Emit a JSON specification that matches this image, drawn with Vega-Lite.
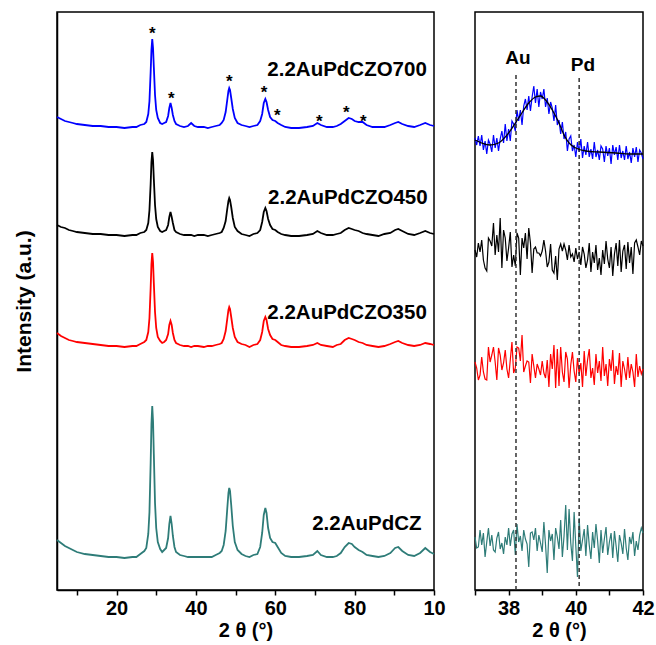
{
"$schema":"https://vega.github.io/schema/vega-lite/v6.json",
"autosize":{"type":"none"},
"padding":{"left":57,"top":12,"right":599,"bottom":633},
"bounds":"flush",
"spacing":41,
"datasets":{
"left":[
{"s":"CZO700","x":5,"y":473},{"s":"CZO700","x":6,"y":471},{"s":"CZO700","x":7,"y":469},{"s":"CZO700","x":8,"y":468},{"s":"CZO700","x":9,"y":467},{"s":"CZO700","x":10,"y":466},{"s":"CZO700","x":12,"y":465},{"s":"CZO700","x":14,"y":464},{"s":"CZO700","x":16,"y":464},{"s":"CZO700","x":18,"y":463},{"s":"CZO700","x":20,"y":463},{"s":"CZO700","x":22,"y":462},{"s":"CZO700","x":24,"y":463},{"s":"CZO700","x":25,"y":463},{"s":"CZO700","x":26,"y":465},{"s":"CZO700","x":27,"y":466},{"s":"CZO700","x":27.5,"y":468},{"s":"CZO700","x":28,"y":476},{"s":"CZO700","x":28.3,"y":489},{"s":"CZO700","x":28.6,"y":518},{"s":"CZO700","x":28.8,"y":540},{"s":"CZO700","x":29.0,"y":551},{"s":"CZO700","x":29.2,"y":542},{"s":"CZO700","x":29.4,"y":523},{"s":"CZO700","x":29.7,"y":495},{"s":"CZO700","x":30.0,"y":480},{"s":"CZO700","x":30.4,"y":472},{"s":"CZO700","x":31,"y":467},{"s":"CZO700","x":31.5,"y":466},{"s":"CZO700","x":32,"y":467},{"s":"CZO700","x":32.5,"y":468},{"s":"CZO700","x":33,"y":474},{"s":"CZO700","x":33.3,"y":482},{"s":"CZO700","x":33.6,"y":487},{"s":"CZO700","x":33.9,"y":482},{"s":"CZO700","x":34.2,"y":475},{"s":"CZO700","x":34.6,"y":469},{"s":"CZO700","x":35,"y":466},{"s":"CZO700","x":36,"y":464},{"s":"CZO700","x":37,"y":463},{"s":"CZO700","x":38,"y":464},{"s":"CZO700","x":38.8,"y":467},{"s":"CZO700","x":39.6,"y":464},{"s":"CZO700","x":40.5,"y":463},{"s":"CZO700","x":42,"y":463},{"s":"CZO700","x":43,"y":462},{"s":"CZO700","x":44,"y":463},{"s":"CZO700","x":45,"y":464},{"s":"CZO700","x":46,"y":465},{"s":"CZO700","x":46.5,"y":467},{"s":"CZO700","x":47,"y":470},{"s":"CZO700","x":47.5,"y":478},{"s":"CZO700","x":47.9,"y":490},{"s":"CZO700","x":48.2,"y":499},{"s":"CZO700","x":48.4,"y":502},{"s":"CZO700","x":48.6,"y":500},{"s":"CZO700","x":48.9,"y":492},{"s":"CZO700","x":49.3,"y":481},{"s":"CZO700","x":49.8,"y":472},{"s":"CZO700","x":50.5,"y":467},{"s":"CZO700","x":51.5,"y":465},{"s":"CZO700","x":52.5,"y":464},{"s":"CZO700","x":53.5,"y":463},{"s":"CZO700","x":54.5,"y":464},{"s":"CZO700","x":55.5,"y":465},{"s":"CZO700","x":56.2,"y":469},{"s":"CZO700","x":56.7,"y":476},{"s":"CZO700","x":57.1,"y":487},{"s":"CZO700","x":57.5,"y":491},{"s":"CZO700","x":57.8,"y":488},{"s":"CZO700","x":58.2,"y":480},{"s":"CZO700","x":58.7,"y":473},{"s":"CZO700","x":59.3,"y":470},{"s":"CZO700","x":60,"y":469},{"s":"CZO700","x":60.6,"y":467},{"s":"CZO700","x":61.5,"y":465},{"s":"CZO700","x":62.5,"y":463},{"s":"CZO700","x":64,"y":462},{"s":"CZO700","x":66,"y":462},{"s":"CZO700","x":68,"y":463},{"s":"CZO700","x":69.5,"y":464},{"s":"CZO700","x":70.6,"y":467},{"s":"CZO700","x":71.5,"y":465},{"s":"CZO700","x":73,"y":463},{"s":"CZO700","x":74.5,"y":463},{"s":"CZO700","x":75.5,"y":464},{"s":"CZO700","x":76.5,"y":466},{"s":"CZO700","x":77.5,"y":469},{"s":"CZO700","x":78.5,"y":472},{"s":"CZO700","x":79.3,"y":471},{"s":"CZO700","x":80,"y":469},{"s":"CZO700","x":81,"y":468},{"s":"CZO700","x":82,"y":468},{"s":"CZO700","x":83,"y":465},{"s":"CZO700","x":84.5,"y":463},{"s":"CZO700","x":86,"y":463},{"s":"CZO700","x":87.5,"y":463},{"s":"CZO700","x":89,"y":465},{"s":"CZO700","x":90.2,"y":467},{"s":"CZO700","x":91,"y":468},{"s":"CZO700","x":92,"y":466},{"s":"CZO700","x":93.5,"y":464},{"s":"CZO700","x":95,"y":463},{"s":"CZO700","x":96.5,"y":465},{"s":"CZO700","x":97.8,"y":467},{"s":"CZO700","x":99,"y":465},{"s":"CZO700","x":100,"y":464},
{"s":"CZO450","x":5,"y":365},{"s":"CZO450","x":6,"y":363},{"s":"CZO450","x":7,"y":362},{"s":"CZO450","x":8,"y":360},{"s":"CZO450","x":9,"y":359},{"s":"CZO450","x":10,"y":358},{"s":"CZO450","x":12,"y":357},{"s":"CZO450","x":14,"y":356},{"s":"CZO450","x":16,"y":356},{"s":"CZO450","x":18,"y":355},{"s":"CZO450","x":20,"y":355},{"s":"CZO450","x":22,"y":354},{"s":"CZO450","x":24,"y":355},{"s":"CZO450","x":25,"y":355},{"s":"CZO450","x":26,"y":357},{"s":"CZO450","x":27,"y":358},{"s":"CZO450","x":27.5,"y":360},{"s":"CZO450","x":28,"y":367},{"s":"CZO450","x":28.3,"y":380},{"s":"CZO450","x":28.6,"y":406},{"s":"CZO450","x":28.8,"y":428},{"s":"CZO450","x":29.0,"y":438},{"s":"CZO450","x":29.2,"y":430},{"s":"CZO450","x":29.4,"y":411},{"s":"CZO450","x":29.7,"y":385},{"s":"CZO450","x":30.0,"y":371},{"s":"CZO450","x":30.4,"y":363},{"s":"CZO450","x":31,"y":359},{"s":"CZO450","x":31.5,"y":358},{"s":"CZO450","x":32,"y":359},{"s":"CZO450","x":32.5,"y":360},{"s":"CZO450","x":33,"y":365},{"s":"CZO450","x":33.3,"y":373},{"s":"CZO450","x":33.6,"y":378},{"s":"CZO450","x":33.9,"y":373},{"s":"CZO450","x":34.2,"y":367},{"s":"CZO450","x":34.6,"y":360},{"s":"CZO450","x":35,"y":358},{"s":"CZO450","x":36,"y":356},{"s":"CZO450","x":37,"y":355},{"s":"CZO450","x":38,"y":355},{"s":"CZO450","x":38.8,"y":355},{"s":"CZO450","x":39.6,"y":354},{"s":"CZO450","x":40.5,"y":355},{"s":"CZO450","x":42,"y":355},{"s":"CZO450","x":43,"y":354},{"s":"CZO450","x":44,"y":355},{"s":"CZO450","x":45,"y":356},{"s":"CZO450","x":46,"y":357},{"s":"CZO450","x":46.5,"y":358},{"s":"CZO450","x":47,"y":362},{"s":"CZO450","x":47.5,"y":369},{"s":"CZO450","x":47.9,"y":381},{"s":"CZO450","x":48.2,"y":389},{"s":"CZO450","x":48.4,"y":392},{"s":"CZO450","x":48.6,"y":390},{"s":"CZO450","x":48.9,"y":383},{"s":"CZO450","x":49.3,"y":372},{"s":"CZO450","x":49.8,"y":363},{"s":"CZO450","x":50.5,"y":359},{"s":"CZO450","x":51.5,"y":356},{"s":"CZO450","x":52.5,"y":355},{"s":"CZO450","x":53.5,"y":354},{"s":"CZO450","x":54.5,"y":356},{"s":"CZO450","x":55.5,"y":357},{"s":"CZO450","x":56.2,"y":360},{"s":"CZO450","x":56.7,"y":368},{"s":"CZO450","x":57.1,"y":378},{"s":"CZO450","x":57.5,"y":382},{"s":"CZO450","x":57.8,"y":379},{"s":"CZO450","x":58.2,"y":371},{"s":"CZO450","x":58.7,"y":365},{"s":"CZO450","x":59.3,"y":361},{"s":"CZO450","x":60,"y":360},{"s":"CZO450","x":60.6,"y":358},{"s":"CZO450","x":61.5,"y":356},{"s":"CZO450","x":62.5,"y":355},{"s":"CZO450","x":64,"y":354},{"s":"CZO450","x":66,"y":354},{"s":"CZO450","x":68,"y":355},{"s":"CZO450","x":69.5,"y":356},{"s":"CZO450","x":70.6,"y":359},{"s":"CZO450","x":71.5,"y":357},{"s":"CZO450","x":73,"y":355},{"s":"CZO450","x":74.5,"y":355},{"s":"CZO450","x":75.5,"y":356},{"s":"CZO450","x":76.5,"y":357},{"s":"CZO450","x":77.5,"y":360},{"s":"CZO450","x":78.5,"y":362},{"s":"CZO450","x":79.3,"y":361},{"s":"CZO450","x":80,"y":360},{"s":"CZO450","x":81,"y":359},{"s":"CZO450","x":82,"y":357},{"s":"CZO450","x":83,"y":356},{"s":"CZO450","x":84.5,"y":355},{"s":"CZO450","x":86,"y":354},{"s":"CZO450","x":87.5,"y":356},{"s":"CZO450","x":89,"y":357},{"s":"CZO450","x":90.2,"y":360},{"s":"CZO450","x":91,"y":361},{"s":"CZO450","x":92,"y":359},{"s":"CZO450","x":93.5,"y":356},{"s":"CZO450","x":95,"y":355},{"s":"CZO450","x":96.5,"y":357},{"s":"CZO450","x":97.8,"y":359},{"s":"CZO450","x":99,"y":357},{"s":"CZO450","x":100,"y":356},
{"s":"CZO350","x":5,"y":257},{"s":"CZO350","x":6,"y":254},{"s":"CZO350","x":7,"y":252},{"s":"CZO350","x":8,"y":250},{"s":"CZO350","x":9,"y":249},{"s":"CZO350","x":10,"y":248},{"s":"CZO350","x":12,"y":247},{"s":"CZO350","x":14,"y":246},{"s":"CZO350","x":16,"y":245},{"s":"CZO350","x":18,"y":244},{"s":"CZO350","x":20,"y":244},{"s":"CZO350","x":22,"y":243},{"s":"CZO350","x":24,"y":244},{"s":"CZO350","x":25,"y":244},{"s":"CZO350","x":26,"y":246},{"s":"CZO350","x":27,"y":248},{"s":"CZO350","x":27.5,"y":250},{"s":"CZO350","x":28,"y":258},{"s":"CZO350","x":28.3,"y":272},{"s":"CZO350","x":28.6,"y":302},{"s":"CZO350","x":28.8,"y":326},{"s":"CZO350","x":29.0,"y":337},{"s":"CZO350","x":29.2,"y":328},{"s":"CZO350","x":29.4,"y":307},{"s":"CZO350","x":29.7,"y":278},{"s":"CZO350","x":30.0,"y":262},{"s":"CZO350","x":30.4,"y":253},{"s":"CZO350","x":31,"y":249},{"s":"CZO350","x":31.5,"y":247},{"s":"CZO350","x":32,"y":248},{"s":"CZO350","x":32.5,"y":250},{"s":"CZO350","x":33,"y":256},{"s":"CZO350","x":33.3,"y":265},{"s":"CZO350","x":33.6,"y":269},{"s":"CZO350","x":33.9,"y":265},{"s":"CZO350","x":34.2,"y":257},{"s":"CZO350","x":34.6,"y":250},{"s":"CZO350","x":35,"y":247},{"s":"CZO350","x":36,"y":245},{"s":"CZO350","x":37,"y":244},{"s":"CZO350","x":38,"y":244},{"s":"CZO350","x":38.8,"y":243},{"s":"CZO350","x":39.6,"y":244},{"s":"CZO350","x":40.5,"y":244},{"s":"CZO350","x":42,"y":243},{"s":"CZO350","x":43,"y":244},{"s":"CZO350","x":44,"y":244},{"s":"CZO350","x":45,"y":245},{"s":"CZO350","x":46,"y":246},{"s":"CZO350","x":46.5,"y":247},{"s":"CZO350","x":47,"y":251},{"s":"CZO350","x":47.5,"y":259},{"s":"CZO350","x":47.9,"y":271},{"s":"CZO350","x":48.2,"y":280},{"s":"CZO350","x":48.4,"y":283},{"s":"CZO350","x":48.6,"y":281},{"s":"CZO350","x":48.9,"y":273},{"s":"CZO350","x":49.3,"y":262},{"s":"CZO350","x":49.8,"y":253},{"s":"CZO350","x":50.5,"y":248},{"s":"CZO350","x":51.5,"y":246},{"s":"CZO350","x":52.5,"y":245},{"s":"CZO350","x":53.5,"y":243},{"s":"CZO350","x":54.5,"y":245},{"s":"CZO350","x":55.5,"y":246},{"s":"CZO350","x":56.2,"y":250},{"s":"CZO350","x":56.7,"y":258},{"s":"CZO350","x":57.1,"y":269},{"s":"CZO350","x":57.5,"y":273},{"s":"CZO350","x":57.8,"y":270},{"s":"CZO350","x":58.2,"y":261},{"s":"CZO350","x":58.7,"y":255},{"s":"CZO350","x":59.3,"y":251},{"s":"CZO350","x":60,"y":250},{"s":"CZO350","x":60.6,"y":248},{"s":"CZO350","x":61.5,"y":245},{"s":"CZO350","x":62.5,"y":244},{"s":"CZO350","x":64,"y":243},{"s":"CZO350","x":66,"y":243},{"s":"CZO350","x":68,"y":244},{"s":"CZO350","x":69.5,"y":245},{"s":"CZO350","x":70.6,"y":247},{"s":"CZO350","x":71.5,"y":245},{"s":"CZO350","x":73,"y":244},{"s":"CZO350","x":74.5,"y":243},{"s":"CZO350","x":75.5,"y":245},{"s":"CZO350","x":76.5,"y":246},{"s":"CZO350","x":77.5,"y":250},{"s":"CZO350","x":78.5,"y":252},{"s":"CZO350","x":79.3,"y":251},{"s":"CZO350","x":80,"y":250},{"s":"CZO350","x":81,"y":248},{"s":"CZO350","x":82,"y":247},{"s":"CZO350","x":83,"y":245},{"s":"CZO350","x":84.5,"y":244},{"s":"CZO350","x":86,"y":243},{"s":"CZO350","x":87.5,"y":244},{"s":"CZO350","x":89,"y":246},{"s":"CZO350","x":90.2,"y":248},{"s":"CZO350","x":91,"y":249},{"s":"CZO350","x":92,"y":247},{"s":"CZO350","x":93.5,"y":245},{"s":"CZO350","x":95,"y":244},{"s":"CZO350","x":96.5,"y":245},{"s":"CZO350","x":97.8,"y":247},{"s":"CZO350","x":99,"y":246},{"s":"CZO350","x":100,"y":245},
{"s":"CZ","x":5,"y":50},{"s":"CZ","x":6,"y":47},{"s":"CZ","x":7,"y":44},{"s":"CZ","x":8,"y":42},{"s":"CZ","x":9,"y":40},{"s":"CZ","x":10,"y":38},{"s":"CZ","x":12,"y":36},{"s":"CZ","x":14,"y":35},{"s":"CZ","x":16,"y":34},{"s":"CZ","x":18,"y":33},{"s":"CZ","x":20,"y":33},{"s":"CZ","x":22,"y":32},{"s":"CZ","x":24,"y":33},{"s":"CZ","x":25,"y":33},{"s":"CZ","x":26,"y":36},{"s":"CZ","x":27,"y":39},{"s":"CZ","x":27.5,"y":42},{"s":"CZ","x":28,"y":56},{"s":"CZ","x":28.3,"y":78},{"s":"CZ","x":28.6,"y":127},{"s":"CZ","x":28.8,"y":166},{"s":"CZ","x":29.0,"y":184},{"s":"CZ","x":29.2,"y":169},{"s":"CZ","x":29.4,"y":136},{"s":"CZ","x":29.7,"y":87},{"s":"CZ","x":30.0,"y":62},{"s":"CZ","x":30.4,"y":48},{"s":"CZ","x":31,"y":41},{"s":"CZ","x":31.5,"y":38},{"s":"CZ","x":32,"y":40},{"s":"CZ","x":32.5,"y":42},{"s":"CZ","x":33,"y":52},{"s":"CZ","x":33.3,"y":66},{"s":"CZ","x":33.6,"y":74},{"s":"CZ","x":33.9,"y":66},{"s":"CZ","x":34.2,"y":54},{"s":"CZ","x":34.6,"y":43},{"s":"CZ","x":35,"y":38},{"s":"CZ","x":36,"y":35},{"s":"CZ","x":37,"y":34},{"s":"CZ","x":38,"y":33},{"s":"CZ","x":38.8,"y":33},{"s":"CZ","x":39.6,"y":33},{"s":"CZ","x":40.5,"y":33},{"s":"CZ","x":42,"y":33},{"s":"CZ","x":43,"y":33},{"s":"CZ","x":44,"y":33},{"s":"CZ","x":45,"y":35},{"s":"CZ","x":46,"y":37},{"s":"CZ","x":46.5,"y":39},{"s":"CZ","x":47,"y":45},{"s":"CZ","x":47.5,"y":59},{"s":"CZ","x":47.9,"y":81},{"s":"CZ","x":48.2,"y":97},{"s":"CZ","x":48.4,"y":102},{"s":"CZ","x":48.6,"y":99},{"s":"CZ","x":48.9,"y":85},{"s":"CZ","x":49.3,"y":64},{"s":"CZ","x":49.8,"y":48},{"s":"CZ","x":50.5,"y":40},{"s":"CZ","x":51.5,"y":36},{"s":"CZ","x":52.5,"y":34},{"s":"CZ","x":53.5,"y":33},{"s":"CZ","x":54.5,"y":35},{"s":"CZ","x":55.5,"y":36},{"s":"CZ","x":56.2,"y":43},{"s":"CZ","x":56.7,"y":57},{"s":"CZ","x":57.1,"y":75},{"s":"CZ","x":57.5,"y":82},{"s":"CZ","x":57.8,"y":77},{"s":"CZ","x":58.2,"y":62},{"s":"CZ","x":58.7,"y":52},{"s":"CZ","x":59.3,"y":48},{"s":"CZ","x":60,"y":47},{"s":"CZ","x":60.6,"y":43},{"s":"CZ","x":61.5,"y":37},{"s":"CZ","x":62.5,"y":34},{"s":"CZ","x":64,"y":33},{"s":"CZ","x":66,"y":33},{"s":"CZ","x":68,"y":34},{"s":"CZ","x":69.5,"y":35},{"s":"CZ","x":70.6,"y":39},{"s":"CZ","x":71.5,"y":35},{"s":"CZ","x":73,"y":33},{"s":"CZ","x":74.5,"y":33},{"s":"CZ","x":75.5,"y":34},{"s":"CZ","x":76.5,"y":37},{"s":"CZ","x":77.5,"y":43},{"s":"CZ","x":78.5,"y":47},{"s":"CZ","x":79.3,"y":46},{"s":"CZ","x":80,"y":43},{"s":"CZ","x":81,"y":40},{"s":"CZ","x":82,"y":38},{"s":"CZ","x":83,"y":35},{"s":"CZ","x":84.5,"y":34},{"s":"CZ","x":86,"y":33},{"s":"CZ","x":87.5,"y":34},{"s":"CZ","x":89,"y":37},{"s":"CZ","x":90.2,"y":42},{"s":"CZ","x":91,"y":43},{"s":"CZ","x":92,"y":39},{"s":"CZ","x":93.5,"y":35},{"s":"CZ","x":95,"y":34},{"s":"CZ","x":96.5,"y":37},{"s":"CZ","x":97.8,"y":42},{"s":"CZ","x":99,"y":38},{"s":"CZ","x":100,"y":36}
],
"right":[
{"s":"CZO700","x":37.00,"y":452},{"s":"CZO700","x":37.05,"y":445},{"s":"CZO700","x":37.10,"y":454},{"s":"CZO700","x":37.15,"y":444},{"s":"CZO700","x":37.20,"y":455},{"s":"CZO700","x":37.25,"y":440},{"s":"CZO700","x":37.30,"y":449},{"s":"CZO700","x":37.35,"y":436},{"s":"CZO700","x":37.40,"y":450},{"s":"CZO700","x":37.45,"y":446},{"s":"CZO700","x":37.50,"y":438},{"s":"CZO700","x":37.55,"y":455},{"s":"CZO700","x":37.60,"y":442},{"s":"CZO700","x":37.65,"y":452},{"s":"CZO700","x":37.70,"y":439},{"s":"CZO700","x":37.75,"y":451},{"s":"CZO700","x":37.80,"y":459},{"s":"CZO700","x":37.85,"y":447},{"s":"CZO700","x":37.90,"y":466},{"s":"CZO700","x":37.95,"y":449},{"s":"CZO700","x":38.00,"y":461},{"s":"CZO700","x":38.05,"y":449},{"s":"CZO700","x":38.10,"y":469},{"s":"CZO700","x":38.15,"y":466},{"s":"CZO700","x":38.20,"y":459},{"s":"CZO700","x":38.25,"y":480},{"s":"CZO700","x":38.30,"y":469},{"s":"CZO700","x":38.35,"y":480},{"s":"CZO700","x":38.40,"y":465},{"s":"CZO700","x":38.45,"y":484},{"s":"CZO700","x":38.50,"y":491},{"s":"CZO700","x":38.55,"y":480},{"s":"CZO700","x":38.60,"y":494},{"s":"CZO700","x":38.65,"y":479},{"s":"CZO700","x":38.70,"y":493},{"s":"CZO700","x":38.75,"y":504},{"s":"CZO700","x":38.80,"y":487},{"s":"CZO700","x":38.85,"y":501},{"s":"CZO700","x":38.90,"y":483},{"s":"CZO700","x":38.95,"y":498},{"s":"CZO700","x":39.00,"y":491},{"s":"CZO700","x":39.05,"y":501},{"s":"CZO700","x":39.10,"y":483},{"s":"CZO700","x":39.15,"y":492},{"s":"CZO700","x":39.20,"y":476},{"s":"CZO700","x":39.25,"y":488},{"s":"CZO700","x":39.30,"y":482},{"s":"CZO700","x":39.35,"y":469},{"s":"CZO700","x":39.40,"y":485},{"s":"CZO700","x":39.45,"y":465},{"s":"CZO700","x":39.50,"y":470},{"s":"CZO700","x":39.55,"y":456},{"s":"CZO700","x":39.60,"y":468},{"s":"CZO700","x":39.65,"y":451},{"s":"CZO700","x":39.70,"y":458},{"s":"CZO700","x":39.75,"y":439},{"s":"CZO700","x":39.80,"y":451},{"s":"CZO700","x":39.85,"y":454},{"s":"CZO700","x":39.90,"y":439},{"s":"CZO700","x":39.95,"y":445},{"s":"CZO700","x":40.00,"y":433},{"s":"CZO700","x":40.05,"y":448},{"s":"CZO700","x":40.10,"y":438},{"s":"CZO700","x":40.15,"y":451},{"s":"CZO700","x":40.20,"y":432},{"s":"CZO700","x":40.25,"y":444},{"s":"CZO700","x":40.30,"y":435},{"s":"CZO700","x":40.35,"y":448},{"s":"CZO700","x":40.40,"y":433},{"s":"CZO700","x":40.45,"y":441},{"s":"CZO700","x":40.50,"y":431},{"s":"CZO700","x":40.55,"y":448},{"s":"CZO700","x":40.60,"y":433},{"s":"CZO700","x":40.65,"y":440},{"s":"CZO700","x":40.70,"y":430},{"s":"CZO700","x":40.75,"y":444},{"s":"CZO700","x":40.80,"y":441},{"s":"CZO700","x":40.85,"y":428},{"s":"CZO700","x":40.90,"y":444},{"s":"CZO700","x":40.95,"y":434},{"s":"CZO700","x":41.00,"y":442},{"s":"CZO700","x":41.05,"y":426},{"s":"CZO700","x":41.10,"y":445},{"s":"CZO700","x":41.15,"y":435},{"s":"CZO700","x":41.20,"y":443},{"s":"CZO700","x":41.25,"y":430},{"s":"CZO700","x":41.30,"y":445},{"s":"CZO700","x":41.35,"y":432},{"s":"CZO700","x":41.40,"y":439},{"s":"CZO700","x":41.45,"y":430},{"s":"CZO700","x":41.50,"y":444},{"s":"CZO700","x":41.55,"y":431},{"s":"CZO700","x":41.60,"y":438},{"s":"CZO700","x":41.65,"y":427},{"s":"CZO700","x":41.70,"y":442},{"s":"CZO700","x":41.75,"y":433},{"s":"CZO700","x":41.80,"y":443},{"s":"CZO700","x":41.85,"y":428},{"s":"CZO700","x":41.90,"y":440},{"s":"CZO700","x":41.95,"y":437},{"s":"CZO700","x":42.00,"y":431},
{"s":"CZO450","x":37.00,"y":340},{"s":"CZO450","x":37.05,"y":333},{"s":"CZO450","x":37.10,"y":347},{"s":"CZO450","x":37.15,"y":338},{"s":"CZO450","x":37.20,"y":350},{"s":"CZO450","x":37.25,"y":330},{"s":"CZO450","x":37.30,"y":322},{"s":"CZO450","x":37.35,"y":319},{"s":"CZO450","x":37.40,"y":352},{"s":"CZO450","x":37.45,"y":349},{"s":"CZO450","x":37.50,"y":344},{"s":"CZO450","x":37.55,"y":367},{"s":"CZO450","x":37.60,"y":335},{"s":"CZO450","x":37.65,"y":355},{"s":"CZO450","x":37.70,"y":338},{"s":"CZO450","x":37.75,"y":372},{"s":"CZO450","x":37.80,"y":322},{"s":"CZO450","x":37.85,"y":360},{"s":"CZO450","x":37.90,"y":352},{"s":"CZO450","x":37.95,"y":329},{"s":"CZO450","x":38.00,"y":342},{"s":"CZO450","x":38.05,"y":358},{"s":"CZO450","x":38.10,"y":323},{"s":"CZO450","x":38.15,"y":335},{"s":"CZO450","x":38.20,"y":324},{"s":"CZO450","x":38.25,"y":357},{"s":"CZO450","x":38.30,"y":352},{"s":"CZO450","x":38.35,"y":315},{"s":"CZO450","x":38.40,"y":352},{"s":"CZO450","x":38.45,"y":342},{"s":"CZO450","x":38.50,"y":357},{"s":"CZO450","x":38.55,"y":331},{"s":"CZO450","x":38.60,"y":362},{"s":"CZO450","x":38.65,"y":347},{"s":"CZO450","x":38.70,"y":317},{"s":"CZO450","x":38.75,"y":341},{"s":"CZO450","x":38.80,"y":343},{"s":"CZO450","x":38.85,"y":337},{"s":"CZO450","x":38.90,"y":337},{"s":"CZO450","x":38.95,"y":334},{"s":"CZO450","x":39.00,"y":339},{"s":"CZO450","x":39.05,"y":350},{"s":"CZO450","x":39.10,"y":339},{"s":"CZO450","x":39.15,"y":323},{"s":"CZO450","x":39.20,"y":328},{"s":"CZO450","x":39.25,"y":346},{"s":"CZO450","x":39.30,"y":320},{"s":"CZO450","x":39.35,"y":317},{"s":"CZO450","x":39.40,"y":334},{"s":"CZO450","x":39.45,"y":310},{"s":"CZO450","x":39.50,"y":341},{"s":"CZO450","x":39.55,"y":346},{"s":"CZO450","x":39.60,"y":339},{"s":"CZO450","x":39.65,"y":346},{"s":"CZO450","x":39.70,"y":340},{"s":"CZO450","x":39.75,"y":330},{"s":"CZO450","x":39.80,"y":345},{"s":"CZO450","x":39.85,"y":333},{"s":"CZO450","x":39.90,"y":336},{"s":"CZO450","x":39.95,"y":328},{"s":"CZO450","x":40.00,"y":342},{"s":"CZO450","x":40.05,"y":331},{"s":"CZO450","x":40.10,"y":338},{"s":"CZO450","x":40.15,"y":325},{"s":"CZO450","x":40.20,"y":343},{"s":"CZO450","x":40.25,"y":336},{"s":"CZO450","x":40.30,"y":322},{"s":"CZO450","x":40.35,"y":330},{"s":"CZO450","x":40.40,"y":347},{"s":"CZO450","x":40.45,"y":318},{"s":"CZO450","x":40.50,"y":338},{"s":"CZO450","x":40.55,"y":327},{"s":"CZO450","x":40.60,"y":345},{"s":"CZO450","x":40.65,"y":320},{"s":"CZO450","x":40.70,"y":332},{"s":"CZO450","x":40.75,"y":315},{"s":"CZO450","x":40.80,"y":340},{"s":"CZO450","x":40.85,"y":326},{"s":"CZO450","x":40.90,"y":349},{"s":"CZO450","x":40.95,"y":331},{"s":"CZO450","x":41.00,"y":322},{"s":"CZO450","x":41.05,"y":343},{"s":"CZO450","x":41.10,"y":314},{"s":"CZO450","x":41.15,"y":336},{"s":"CZO450","x":41.20,"y":347},{"s":"CZO450","x":41.25,"y":324},{"s":"CZO450","x":41.30,"y":350},{"s":"CZO450","x":41.35,"y":318},{"s":"CZO450","x":41.40,"y":339},{"s":"CZO450","x":41.45,"y":345},{"s":"CZO450","x":41.50,"y":321},{"s":"CZO450","x":41.55,"y":348},{"s":"CZO450","x":41.60,"y":327},{"s":"CZO450","x":41.65,"y":343},{"s":"CZO450","x":41.70,"y":316},{"s":"CZO450","x":41.75,"y":347},{"s":"CZO450","x":41.80,"y":350},{"s":"CZO450","x":41.85,"y":343},{"s":"CZO450","x":41.90,"y":335},{"s":"CZO450","x":41.95,"y":349},{"s":"CZO450","x":42.00,"y":344},
{"s":"CZO350","x":37.00,"y":228},{"s":"CZO350","x":37.05,"y":222},{"s":"CZO350","x":37.10,"y":210},{"s":"CZO350","x":37.15,"y":215},{"s":"CZO350","x":37.20,"y":233},{"s":"CZO350","x":37.25,"y":218},{"s":"CZO350","x":37.30,"y":211},{"s":"CZO350","x":37.35,"y":210},{"s":"CZO350","x":37.40,"y":243},{"s":"CZO350","x":37.45,"y":228},{"s":"CZO350","x":37.50,"y":235},{"s":"CZO350","x":37.55,"y":243},{"s":"CZO350","x":37.60,"y":228},{"s":"CZO350","x":37.65,"y":210},{"s":"CZO350","x":37.70,"y":242},{"s":"CZO350","x":37.75,"y":235},{"s":"CZO350","x":37.80,"y":220},{"s":"CZO350","x":37.85,"y":227},{"s":"CZO350","x":37.90,"y":240},{"s":"CZO350","x":37.95,"y":221},{"s":"CZO350","x":38.00,"y":212},{"s":"CZO350","x":38.05,"y":230},{"s":"CZO350","x":38.10,"y":248},{"s":"CZO350","x":38.15,"y":217},{"s":"CZO350","x":38.20,"y":222},{"s":"CZO350","x":38.25,"y":243},{"s":"CZO350","x":38.30,"y":242},{"s":"CZO350","x":38.35,"y":229},{"s":"CZO350","x":38.40,"y":255},{"s":"CZO350","x":38.45,"y":218},{"s":"CZO350","x":38.50,"y":224},{"s":"CZO350","x":38.55,"y":229},{"s":"CZO350","x":38.60,"y":228},{"s":"CZO350","x":38.65,"y":207},{"s":"CZO350","x":38.70,"y":236},{"s":"CZO350","x":38.75,"y":224},{"s":"CZO350","x":38.80,"y":212},{"s":"CZO350","x":38.85,"y":226},{"s":"CZO350","x":38.90,"y":221},{"s":"CZO350","x":38.95,"y":215},{"s":"CZO350","x":39.00,"y":229},{"s":"CZO350","x":39.05,"y":217},{"s":"CZO350","x":39.10,"y":212},{"s":"CZO350","x":39.15,"y":230},{"s":"CZO350","x":39.20,"y":203},{"s":"CZO350","x":39.25,"y":236},{"s":"CZO350","x":39.30,"y":221},{"s":"CZO350","x":39.35,"y":245},{"s":"CZO350","x":39.40,"y":202},{"s":"CZO350","x":39.45,"y":241},{"s":"CZO350","x":39.50,"y":204},{"s":"CZO350","x":39.55,"y":243},{"s":"CZO350","x":39.60,"y":218},{"s":"CZO350","x":39.65,"y":208},{"s":"CZO350","x":39.70,"y":238},{"s":"CZO350","x":39.75,"y":231},{"s":"CZO350","x":39.80,"y":202},{"s":"CZO350","x":39.85,"y":225},{"s":"CZO350","x":39.90,"y":238},{"s":"CZO350","x":39.95,"y":219},{"s":"CZO350","x":40.00,"y":208},{"s":"CZO350","x":40.05,"y":232},{"s":"CZO350","x":40.10,"y":216},{"s":"CZO350","x":40.15,"y":227},{"s":"CZO350","x":40.20,"y":203},{"s":"CZO350","x":40.25,"y":239},{"s":"CZO350","x":40.30,"y":214},{"s":"CZO350","x":40.35,"y":230},{"s":"CZO350","x":40.40,"y":241},{"s":"CZO350","x":40.45,"y":212},{"s":"CZO350","x":40.50,"y":222},{"s":"CZO350","x":40.55,"y":205},{"s":"CZO350","x":40.60,"y":236},{"s":"CZO350","x":40.65,"y":217},{"s":"CZO350","x":40.70,"y":229},{"s":"CZO350","x":40.75,"y":209},{"s":"CZO350","x":40.80,"y":243},{"s":"CZO350","x":40.85,"y":214},{"s":"CZO350","x":40.90,"y":226},{"s":"CZO350","x":40.95,"y":204},{"s":"CZO350","x":41.00,"y":231},{"s":"CZO350","x":41.05,"y":219},{"s":"CZO350","x":41.10,"y":240},{"s":"CZO350","x":41.15,"y":206},{"s":"CZO350","x":41.20,"y":224},{"s":"CZO350","x":41.25,"y":215},{"s":"CZO350","x":41.30,"y":237},{"s":"CZO350","x":41.35,"y":203},{"s":"CZO350","x":41.40,"y":229},{"s":"CZO350","x":41.45,"y":221},{"s":"CZO350","x":41.50,"y":210},{"s":"CZO350","x":41.55,"y":233},{"s":"CZO350","x":41.60,"y":212},{"s":"CZO350","x":41.65,"y":226},{"s":"CZO350","x":41.70,"y":218},{"s":"CZO350","x":41.75,"y":203},{"s":"CZO350","x":41.80,"y":236},{"s":"CZO350","x":41.85,"y":213},{"s":"CZO350","x":41.90,"y":224},{"s":"CZO350","x":41.95,"y":216},{"s":"CZO350","x":42.00,"y":221},
{"s":"CZ","x":37.00,"y":53},{"s":"CZ","x":37.05,"y":42},{"s":"CZ","x":37.10,"y":43},{"s":"CZ","x":37.15,"y":60},{"s":"CZ","x":37.20,"y":45},{"s":"CZ","x":37.25,"y":57},{"s":"CZ","x":37.30,"y":33},{"s":"CZ","x":37.35,"y":48},{"s":"CZ","x":37.40,"y":62},{"s":"CZ","x":37.45,"y":44},{"s":"CZ","x":37.50,"y":55},{"s":"CZ","x":37.55,"y":40},{"s":"CZ","x":37.60,"y":38},{"s":"CZ","x":37.65,"y":52},{"s":"CZ","x":37.70,"y":58},{"s":"CZ","x":37.75,"y":41},{"s":"CZ","x":37.80,"y":47},{"s":"CZ","x":37.85,"y":36},{"s":"CZ","x":37.90,"y":53},{"s":"CZ","x":37.95,"y":45},{"s":"CZ","x":38.00,"y":62},{"s":"CZ","x":38.05,"y":44},{"s":"CZ","x":38.10,"y":56},{"s":"CZ","x":38.15,"y":60},{"s":"CZ","x":38.20,"y":35},{"s":"CZ","x":38.25,"y":66},{"s":"CZ","x":38.30,"y":48},{"s":"CZ","x":38.35,"y":54},{"s":"CZ","x":38.40,"y":39},{"s":"CZ","x":38.45,"y":60},{"s":"CZ","x":38.50,"y":51},{"s":"CZ","x":38.55,"y":46},{"s":"CZ","x":38.60,"y":23},{"s":"CZ","x":38.65,"y":57},{"s":"CZ","x":38.70,"y":58},{"s":"CZ","x":38.75,"y":50},{"s":"CZ","x":38.80,"y":62},{"s":"CZ","x":38.85,"y":39},{"s":"CZ","x":38.90,"y":55},{"s":"CZ","x":38.95,"y":47},{"s":"CZ","x":39.00,"y":38},{"s":"CZ","x":39.05,"y":68},{"s":"CZ","x":39.10,"y":45},{"s":"CZ","x":39.15,"y":17},{"s":"CZ","x":39.20,"y":60},{"s":"CZ","x":39.25,"y":49},{"s":"CZ","x":39.30,"y":56},{"s":"CZ","x":39.35,"y":30},{"s":"CZ","x":39.40,"y":62},{"s":"CZ","x":39.45,"y":53},{"s":"CZ","x":39.50,"y":41},{"s":"CZ","x":39.55,"y":70},{"s":"CZ","x":39.60,"y":33},{"s":"CZ","x":39.65,"y":54},{"s":"CZ","x":39.70,"y":85},{"s":"CZ","x":39.75,"y":40},{"s":"CZ","x":39.80,"y":81},{"s":"CZ","x":39.85,"y":47},{"s":"CZ","x":39.90,"y":29},{"s":"CZ","x":39.95,"y":78},{"s":"CZ","x":40.00,"y":44},{"s":"CZ","x":40.05,"y":13},{"s":"CZ","x":40.10,"y":72},{"s":"CZ","x":40.15,"y":39},{"s":"CZ","x":40.20,"y":50},{"s":"CZ","x":40.25,"y":61},{"s":"CZ","x":40.30,"y":34},{"s":"CZ","x":40.35,"y":65},{"s":"CZ","x":40.40,"y":45},{"s":"CZ","x":40.45,"y":31},{"s":"CZ","x":40.50,"y":58},{"s":"CZ","x":40.55,"y":42},{"s":"CZ","x":40.60,"y":66},{"s":"CZ","x":40.65,"y":49},{"s":"CZ","x":40.70,"y":27},{"s":"CZ","x":40.75,"y":60},{"s":"CZ","x":40.80,"y":37},{"s":"CZ","x":40.85,"y":51},{"s":"CZ","x":40.90,"y":63},{"s":"CZ","x":40.95,"y":35},{"s":"CZ","x":41.00,"y":48},{"s":"CZ","x":41.05,"y":57},{"s":"CZ","x":41.10,"y":32},{"s":"CZ","x":41.15,"y":59},{"s":"CZ","x":41.20,"y":44},{"s":"CZ","x":41.25,"y":28},{"s":"CZ","x":41.30,"y":55},{"s":"CZ","x":41.35,"y":47},{"s":"CZ","x":41.40,"y":36},{"s":"CZ","x":41.45,"y":61},{"s":"CZ","x":41.50,"y":42},{"s":"CZ","x":41.55,"y":30},{"s":"CZ","x":41.60,"y":53},{"s":"CZ","x":41.65,"y":46},{"s":"CZ","x":41.70,"y":58},{"s":"CZ","x":41.75,"y":34},{"s":"CZ","x":41.80,"y":49},{"s":"CZ","x":41.85,"y":40},{"s":"CZ","x":41.90,"y":55},{"s":"CZ","x":41.95,"y":62},{"s":"CZ","x":42.00,"y":57}
],
"fit":[
{"x":37.0,"y":450},{"x":37.2,"y":447},{"x":37.45,"y":445},{"x":37.7,"y":447},{"x":38.0,"y":457},{"x":38.3,"y":472},{"x":38.6,"y":487},{"x":38.8,"y":493},{"x":38.95,"y":494},{"x":39.1,"y":490},{"x":39.3,"y":480},{"x":39.5,"y":467},{"x":39.65,"y":455},{"x":39.8,"y":447},{"x":40.0,"y":442},{"x":40.3,"y":439},{"x":40.7,"y":438},{"x":41.2,"y":437},{"x":41.6,"y":436},{"x":42.0,"y":436}
],
"stars":[
{"x":29.0,"y":561,"t":"*"},{"x":33.8,"y":496,"t":"*"},{"x":48.4,"y":513,"t":"*"},{"x":57.2,"y":502,"t":"*"},{"x":60.5,"y":479,"t":"*"},{"x":71.1,"y":473,"t":"*"},{"x":77.9,"y":482,"t":"*"},{"x":82.2,"y":473,"t":"*"}
],
"labels":[
{"x":58.0,"y":520,"t":"2.2AuPdCZO700"},{"x":58.2,"y":392,"t":"2.2AuPdCZO450"},{"x":58.0,"y":277,"t":"2.2AuPdCZO350"},{"x":69.3,"y":66,"t":"2.2AuPdCZ"}
],
"dash":[
{"x":38.22,"y":515,"y2":0},{"x":40.1,"y":512,"y2":0}
],
"metal":[
{"x":38.28,"y":532,"t":"Au"},{"x":40.21,"y":525,"t":"Pd"}
]
},
"hconcat":[
{
"width":377,"height":578,
"layer":[
{"data":{"name":"left"},"mark":{"type":"line","strokeWidth":1.8},
"encoding":{
"x":{"field":"x","type":"quantitative","scale":{"domain":[5,100],"nice":false,"zero":false},
"axis":{"title":"2 θ (°)","values":[10,20,30,40,50,60,70,80,90,100],"labelExpr":"datum.value % 20 == 0 ? (datum.value == 100 ? '10' : datum.label) : ''","labelFlush":false,"labelOverlap":false,"labelPadding":3,"titlePadding":2}},
"y":{"field":"y","type":"quantitative","scale":{"domain":[0,578],"nice":false,"zero":false},
"axis":{"title":"Intensity (a.u.)","ticks":false,"labels":false,"titlePadding":23,"titleFontSize":21}},
"color":{"field":"s","type":"nominal","scale":{"domain":["CZ","CZO350","CZO450","CZO700"],"range":["#2e7c78","#ff0000","#000000","#0000ff"]},"legend":null}
}},
{"data":{"name":"stars"},"mark":{"type":"text","fontSize":17,"dy":5,"color":"black"},
"encoding":{"x":{"field":"x","type":"quantitative"},"y":{"field":"y","type":"quantitative"},"text":{"field":"t"}}},
{"data":{"name":"labels"},"mark":{"type":"text","fontSize":20.5,"align":"left","baseline":"middle","color":"black"},
"encoding":{"x":{"field":"x","type":"quantitative"},"y":{"field":"y","type":"quantitative"},"text":{"field":"t"}}}
]
},
{
"width":168,"height":578,
"resolve":{"axis":{"x":"independent"}},
"layer":[
{"data":{"name":"right"},"mark":{"type":"line","strokeWidth":1.2},
"encoding":{
"x":{"field":"x","type":"quantitative","scale":{"domain":[37,42],"nice":false,"zero":false},
"axis":{"title":"2 θ (°)","values":[38,40,42],"labelFlush":false,"labelPadding":3,"titlePadding":2}},
"y":{"field":"y","type":"quantitative","scale":{"domain":[0,578],"nice":false,"zero":false},"axis":null},
"color":{"field":"s","type":"nominal","scale":{"domain":["CZ","CZO350","CZO450","CZO700"],"range":["#2e7c78","#ff0000","#000000","#0000ff"]},"legend":null}
}},
{"data":{"name":"dash"},"mark":{"type":"rule","strokeDash":[4,3],"strokeWidth":1.5,"color":"#333333"},
"encoding":{
"x":{"field":"x","type":"quantitative","axis":{"orient":"bottom","values":[37,39,41],"labels":false,"title":null,"domain":false}},
"y":{"field":"y","type":"quantitative"},
"y2":{"field":"y2"}
}},
{"data":{"name":"fit"},"mark":{"type":"line","strokeWidth":1.3,"color":"black","interpolate":"monotone"},
"encoding":{"x":{"field":"x","type":"quantitative","axis":null},"y":{"field":"y","type":"quantitative"}}},
{"data":{"name":"metal"},"mark":{"type":"text","fontSize":19,"baseline":"middle","color":"black"},
"encoding":{"x":{"field":"x","type":"quantitative","axis":null},"y":{"field":"y","type":"quantitative"},"text":{"field":"t"}}}
]
}
],
"config":{
"view":{"stroke":"black","strokeWidth":1.5},
"axis":{"domainColor":"black","domainWidth":1.5,"tickColor":"black","tickWidth":1.5,"tickSize":5,"grid":false,
"labelFont":"Liberation Sans","labelFontWeight":"bold","labelFontSize":20,"labelColor":"black",
"titleFont":"Liberation Sans","titleFontWeight":"bold","titleFontSize":20,"titleColor":"black"},
"text":{"font":"Liberation Sans","fontWeight":"bold"}
}
}
